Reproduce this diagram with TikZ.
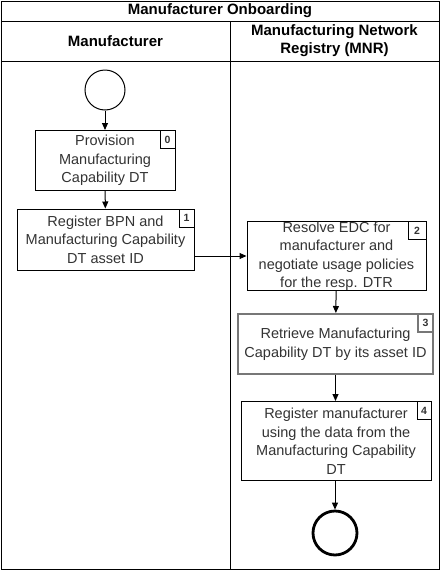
\documentclass[tikz,border=0pt]{standalone}
\usepackage{fontspec}
\setmainfont{Liberation Sans}
\usetikzlibrary{arrows.meta,positioning}
\definecolor{txt}{HTML}{333333}
\definecolor{graybd}{HTML}{777777}
\tikzset{
  frame/.style={draw=black, line width=1pt},
  hdr/.style={font=\fontsize{15}{18}\selectfont\bfseries, align=center, inner sep=0pt},
  task/.style={draw=black, line width=1pt, fill=white, align=center, inner sep=0pt,
    font=\fontsize{14.5}{18.5}\selectfont, text=txt},
  numbox/.style={draw=black, line width=1pt, fill=white, inner sep=0pt,
    minimum width=15pt, minimum height=18pt, font=\fontsize{10.5}{12}\selectfont\bfseries, text=txt},
  startev/.style={circle, draw=black, line width=1pt, minimum size=40pt, inner sep=0pt},
  endev/.style={circle, draw=black, line width=2.8pt, minimum size=44pt, inner sep=0pt},
  flow/.style={draw=black, line width=1pt, -{Triangle[length=7pt,width=6pt]}},
}
\begin{document}
\begin{tikzpicture}[x=1pt,y=-1pt]
\useasboundingbox (0,0) rectangle (441,571);
% pool frame
\coordinate (tl) at (1,1);
\coordinate (br) at (439,569);
\draw[frame] (tl) rectangle (br);
\coordinate (t1) at (1,21); \coordinate (t2) at (439,21);
\draw[frame] (t1) -- (t2);
\coordinate (h1) at (1,61); \coordinate (h2) at (439,61);
\draw[frame] (h1) -- (h2);
\coordinate (d1) at (230,21); \coordinate (d2) at (230,569);
\draw[frame] (d1) -- (d2);
\node[hdr] (title) at (220,11) {Manufacturer Onboarding};
\node[hdr] (lane1) at (115.5,41.5) {Manufacturer};
\node[hdr] (lane2) at (334.5,41) {Manufacturing Network\\Registry (MNR)};
% events
\node[startev] (start) at (105,90) {};
\node[endev] (end) at (335,533) {};
% tasks
\node[task, minimum width=140pt, minimum height=60pt] (b0) at (105,160.5)
  {Provision\\Manufacturing\\Capability DT};
\node[task, minimum width=177pt, minimum height=61pt] (b1) at (105.5,239.5)
  {Register BPN and\\Manufacturing Capability\\DT asset ID};
\node[task, minimum width=179pt, minimum height=69pt] (b2) at (336.5,256)
  {Resolve EDC for\\manufacturer and\\negotiate usage policies\\for the resp. DTR};
\node[task, draw=graybd, line width=2pt, minimum width=195pt, minimum height=60pt] (b3) at (335.5,344)
  {Retrieve Manufacturing\\Capability DT by its asset ID};
\node[task, minimum width=190pt, minimum height=79pt] (b4) at (336,441)
  {Register manufacturer\\using the data from the\\Manufacturing Capability\\DT};
% number boxes
\node[numbox, anchor=north east] (n0) at (b0.north east) {0};
\node[numbox, anchor=north east] (n1) at (b1.north east) {1};
\node[numbox, anchor=north east, minimum width=18pt] (n2) at (b2.north east) {2};
\node[numbox, anchor=north east, draw=graybd, line width=2pt] (n3) at (b3.north east) {3};
\node[numbox, anchor=north east, minimum width=14pt] (n4) at (b4.north east) {4};
% flows
\draw[flow] (start) -- (b0);
\draw[flow] (b0) -- (b1);
\draw[flow] (b1.east |- b2.west) -- (b2.west);
\draw[flow] (b2) -- (b3);
\draw[flow] (b3) -- (b3 |- b4.north);
\draw[flow] (b4.south -| end) -- (end);
\end{tikzpicture}
\end{document}
